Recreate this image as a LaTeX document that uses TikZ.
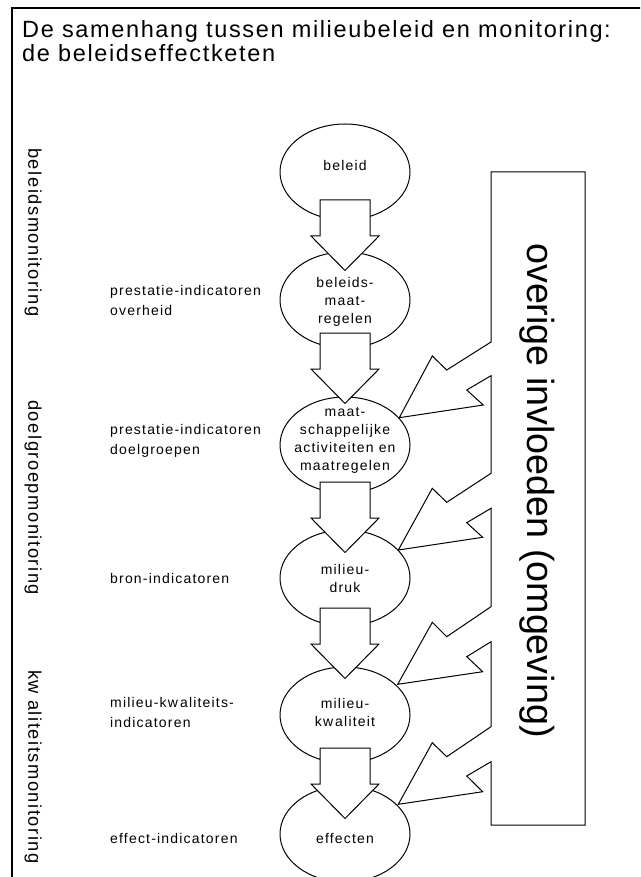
\documentclass[tikz,border=0pt]{standalone}
\usepackage{fontspec}
\setmainfont{Liberation Sans}[LetterSpace=8.5]
\newfontfamily\plainsans{Liberation Sans}
\newfontfamily\ttlfont{Liberation Sans}[LetterSpace=7]
\usetikzlibrary{shapes.geometric}
\newcommand{\blkarrow}[1]{%
  \draw[blk] (320,#1) -- ++(50,0) -- ++(0,36) -- ++(9,0) -- ++(-34,34.5) -- ++(-34,-34.5) -- ++(9,0) -- cycle;}
\begin{document}
\begin{tikzpicture}[x=1pt,y=-1pt,
  ell/.style={ellipse, draw, line width=1pt, minimum width=130pt, minimum height=96pt, inner sep=0pt},
  etxt/.style={font=\fontsize{14}{18}\selectfont, align=center, inner sep=0pt},
  ltxt/.style={font=\fontsize{14}{20}\selectfont, align=left, inner sep=0pt, anchor=west},
  rtxt/.style={font=\fontsize{18.3}{20}\selectfont, rotate=-90, anchor=west, inner sep=0pt},
  ttl/.style={font=\ttlfont\fontsize{23.5}{21}\selectfont, anchor=base west, inner sep=0pt},
  blk/.style={draw, fill=white, line width=1pt, line join=miter},
  frm/.style={draw, line width=2pt}]
\useasboundingbox (0,0) rectangle (640,877);
\clip (0,0) rectangle (640,877);
\fill[white] (0,0) rectangle (640,877);
% frame
\draw[frm] (12,900) -- (12,8) -- (660,8);
% title
\node[ttl] (title1) at (22,37.5) {De samenhang tussen milieubeleid en monitoring:};
\node[ttl] (title2) at (22,61.5) {de beleidseffectketen};
% rotated monitoring labels
\node[rtxt] (mon1) at (33,148) {beleidsmonitoring};
\node[rtxt] (mon2) at (33,400) {doelgroepmonitoring};
\node[rtxt] (mon3) at (33,670) {kw\kern6pt aliteitsmonitoring};
% indicator labels
\node[ltxt] (ind1) at (110,300) {prestatie-indicatoren\\overheid};
\node[ltxt] (ind2) at (110,441) {prestatie-indicatoren\\doelgroepen};
\node[ltxt] (ind3) at (110,578) {bron-indicatoren};
\node[ltxt] (ind4) at (110,712) {milieu-kw\kern2pt aliteits-\\indicatoren};
\node[ltxt] (ind5) at (110,838) {effect-indicatoren};
% ellipses
\node[ell] (e1) at (345,172) {};
\node[ell] (e2) at (345,300) {};
\node[ell] (e3) at (345,445) {};
\node[ell] (e4) at (345,578) {};
\node[ell] (e5) at (345,715) {};
\node[ell] (e6) at (345,834) {};
% block arrows
\blkarrow{200}
\blkarrow{333}
\blkarrow{482}
\blkarrow{608}
\blkarrow{748}
% ellipse texts
\node[etxt] (t1) at (345,165) {beleid};
\node[etxt] (t2) at (345,302) {beleids-\\maat-\\regelen};
\node[etxt] (t3) at (345,440) {maat-\\schappelijke\\activiteiten en\\maatregelen};
\node[etxt] (t4) at (345,578) {milieu-\\druk};
\node[etxt] (t5) at (345,712) {milieu-\\kw\kern2pt aliteit};
\node[etxt] (t6) at (345,838) {effecten};
% influences box with jagged arrows
\draw[blk] (491,172) -- (585,172) -- (585,825) -- (491,825)
  -- (491,761.7) -- (466.7,776) -- (482.7,791.7) -- (398.3,804.3) -- (432.3,742.7) -- (446.7,756.7) -- (491,726.7)
  -- (491,641.7) -- (466.7,656.7) -- (482.7,671.7) -- (397.7,684.3) -- (432.3,622.3) -- (446.7,636.7) -- (491,606.7)
  -- (491,508.3) -- (466.7,522.7) -- (482.7,537.3) -- (398.3,550) -- (432.3,488.3) -- (446.7,502.3) -- (491,473.3)
  -- (491,375.7) -- (466.7,390) -- (483.3,405) -- (399.3,417.7) -- (432.3,356) -- (446.7,370) -- (491,342)
  -- cycle;
\node[font=\plainsans\fontsize{37.7}{40}\selectfont, rotate=-90, inner sep=0pt] (ovr) at (537,490.5) {overige invloeden (omgeving)};
\end{tikzpicture}
\end{document}
